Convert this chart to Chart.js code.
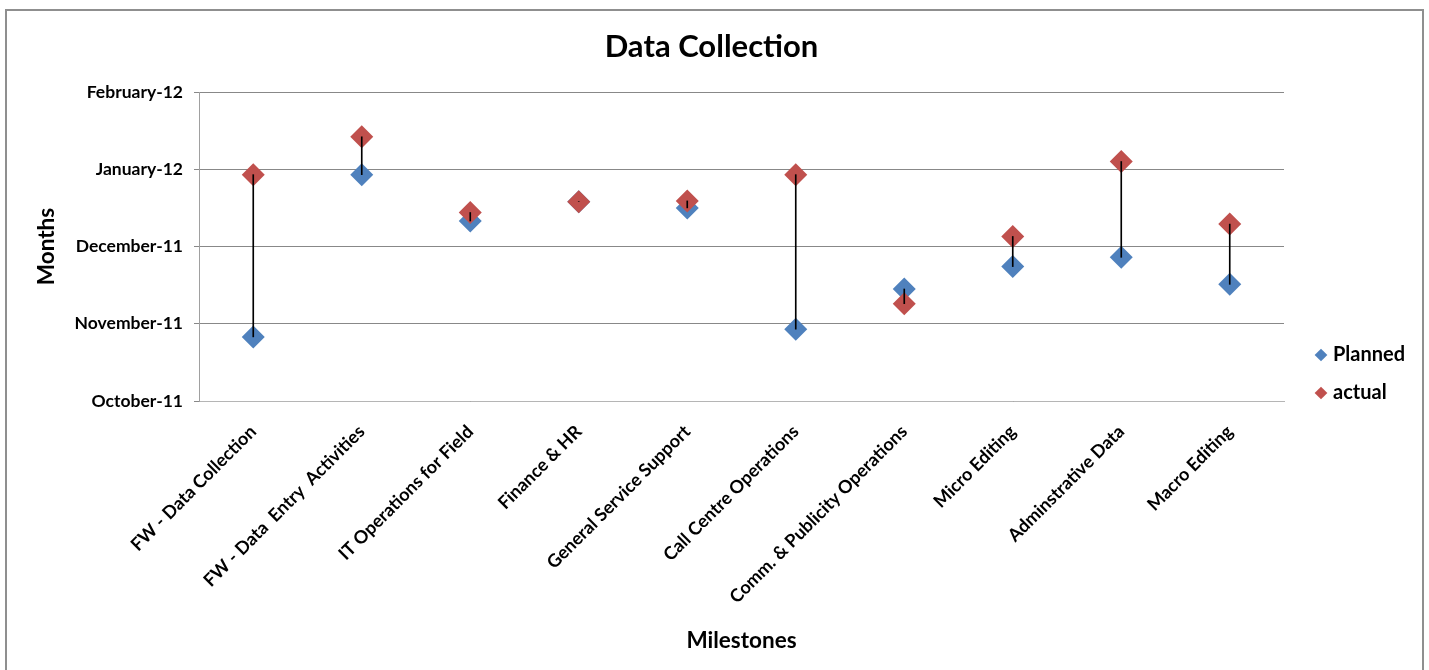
<!DOCTYPE html>
<html>
<head>
<meta charset="utf-8">
<title>Data Collection</title>
<script src="https://cdn.jsdelivr.net/npm/chart.js"></script>
<style>
  body { margin: 0; background: #fff; }
  #frame { position: absolute; left: 5px; top: 9px; width: 1415px; height: 670px; border: 2px solid #8f8f8f; border-bottom: none; }
  canvas { display: block; }
</style>
</head>
<body>
<div id="frame"><canvas id="chart" width="1415" height="670"></canvas></div>
<script>
const milestones = [
    'FW - Data Collection',
    'FW - Data  Entry  Activities',
    'IT Operations for Field',
    'Finance & HR',
    'General Service Support',
    'Call Centre Operations',
    'Comm. & Publicity Operations',
    'Micro Editing',
    'Adminstrative Data',
    'Macro Editing'
];
const monthLabels = ['October-11', 'November-11', 'December-11', 'January-12', 'February-12'];

// values are months after 1 October 2011
const planned = [0.83, 2.93, 2.33, 2.58, 2.50, 0.93, 1.45, 1.74, 1.86, 1.51];
const actual = [2.93, 3.42, 2.44, 2.58, 2.59, 2.93, 1.26, 2.13, 3.10, 2.29];

// black line between planned and actual
const gaps = milestones.map((m, i) => [Math.min(planned[i], actual[i]), Math.max(planned[i], actual[i])]);

Chart.defaults.font.family = 'Lato';
Chart.defaults.font.weight = 'bold';
Chart.defaults.color = '#000';

// move the legend down next to the lower part of the plot
const legendSpot = {
    id: 'legendSpot',
    afterLayout(chart) {
        const lg = chart.legend;
        const area = chart.chartArea;
        const w = lg.width, h = lg.height;
        lg.left = area.right + 17;
        lg.right = lg.left + w;
        lg.top = area.top + 235;
        lg.bottom = lg.top + h;
    }
};

new Chart(document.getElementById('chart'), {
    type: 'bar',
    data: {
        labels: milestones,
        datasets: [
            {
                type: 'line',
                label: 'Planned',
                data: planned,
                showLine: false,
                pointStyle: 'rectRot',
                pointRadius: 11.5,
                pointHoverRadius: 11.5,
                pointBorderWidth: 0,
                borderWidth: 0,
                backgroundColor: '#4f81bd',
                borderColor: '#4f81bd',
                order: 2
            },
            {
                type: 'line',
                label: 'actual',
                data: actual,
                showLine: false,
                pointStyle: 'rectRot',
                pointRadius: 11.5,
                pointHoverRadius: 11.5,
                pointBorderWidth: 0,
                borderWidth: 0,
                backgroundColor: '#c0504d',
                borderColor: '#c0504d',
                order: 1
            },
            {
                label: 'range',
                data: gaps,
                backgroundColor: '#000',
                borderWidth: 0,
                barThickness: 1,
                order: 0
            }
        ]
    },
    options: {
        responsive: false,
        animation: false,
        layout: { padding: { left: 22, right: 28, top: 0, bottom: 23 } },
        plugins: {
            title: {
                display: true,
                text: 'Data Collection',
                font: { size: 31, weight: 'bold' },
                padding: { top: 17.4, bottom: 26.4 }
            },
            legend: {
                position: 'right',
                align: 'start',
                maxWidth: 110,
                labels: {
                    usePointStyle: true,
                    boxWidth: 4,
                    boxHeight: 9,
                    padding: 18,
                    font: { size: 20, weight: 'bold' },
                    filter: item => item.datasetIndex < 2,
                    sort: (a, b) => a.datasetIndex - b.datasetIndex
                }
            },
            tooltip: { enabled: false }
        },
        scales: {
            x: {
                grid: { display: false, drawTicks: false },
                border: { color: '#b5b5b5' },
                ticks: { autoSkip: false, minRotation: 45, maxRotation: 45, padding: 20, font: { size: 18 } },
                title: { display: true, text: 'Milestones', font: { size: 22.5, weight: 'bold' } },
                afterFit: scale => { scale.height = 257; }
            },
            y: {
                min: 0,
                max: 4,
                grid: { color: '#888', tickLength: 5 },
                border: { color: '#a0a0a0' },
                ticks: {
                    stepSize: 1,
                    padding: 11,
                    font: { size: 17.5 },
                    callback: v => monthLabels[v]
                },
                title: { display: true, text: 'Months', font: { size: 22.5, weight: 'bold' } },
                afterFit: scale => { scale.width = 170; }
            }
        }
    },
    plugins: [legendSpot]
});
</script>
</body>
</html>
